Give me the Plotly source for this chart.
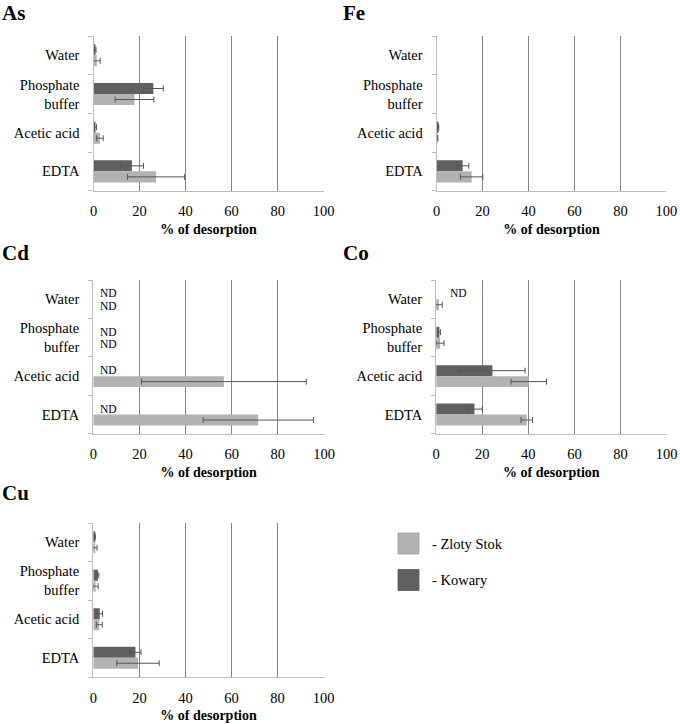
import plotly.graph_objects as go

W, H = 680, 724

categories = ["Water", "Phosphate buffer", "Acetic acid", "EDTA"]
tick_labels = ["Water", "Phosphate<br>buffer", "Acetic acid", "EDTA"]
x_ticks = [0, 20, 40, 60, 80, 100]

# values (% of desorption); None = not detected / no bar
as_kowary = [0.8, 26.0, 0.8, 16.7]
as_kowary_err = [0.3, 4.3, 0.5, 5.0]
as_zloty = [1.4, 17.8, 2.8, 27.2]
as_zloty_err = [1.5, 8.4, 1.4, 12.4]

fe_kowary = [None, None, 0.6, 11.3]
fe_kowary_err = [None, None, 0.3, 2.7]
fe_zloty = [None, None, 0.3, 15.2]
fe_zloty_err = [None, None, 0.2, 4.9]

cd_kowary = [None, None, None, None]
cd_kowary_err = [None, None, None, None]
cd_zloty = [None, None, 56.6, 71.5]
cd_zloty_err = [None, None, 35.7, 23.9]
cd_nd_kowary = [True, True, True, True]
cd_nd_zloty = [True, True, False, False]

co_kowary = [None, 1.4, 24.4, 16.6]
co_kowary_err = [None, 0.5, 14.2, 3.4]
co_zloty = [1.2, 1.7, 40.2, 39.3]
co_zloty_err = [1.4, 1.7, 7.7, 2.5]
co_nd_kowary = [True, False, False, False]
co_nd_zloty = [False, False, False, False]

cu_kowary = [0.6, 2.0, 2.8, 18.3]
cu_kowary_err = [0.3, 0.4, 1.2, 2.4]
cu_zloty = [0.7, 1.0, 2.6, 19.4]
cu_zloty_err = [0.9, 1.1, 1.3, 9.2]

legend_labels = ["- Zloty Stok", "- Kowary"]

DARK = "#606060"
LIGHT = "#b2b2b2"
FONT = "Liberation Serif, Tinos, 'Times New Roman', 'DejaVu Serif', serif"

panels = [
    ("As", as_kowary, as_kowary_err, as_zloty, as_zloty_err, None, None, (93.5, 323.7), (36, 190.7), 3),
    ("Fe", fe_kowary, fe_kowary_err, fe_zloty, fe_zloty_err, None, None, (436.7, 666.3), (36, 190.7), 3),
    ("Cd", cd_kowary, cd_kowary_err, cd_zloty, cd_zloty_err, cd_nd_kowary, cd_nd_zloty, (93.3, 324), (280, 433.8), 2.5),
    ("Co", co_kowary, co_kowary_err, co_zloty, co_zloty_err, co_nd_kowary, co_nd_zloty, (436.2, 666.5), (280, 433.8), 5.5),
    ("Cu", cu_kowary, cu_kowary_err, cu_zloty, cu_zloty_err, None, None, (93.3, 323.7), (523, 677), 3),
]
title_pos = [(0, -1), (341, -1), (0, 239), (341, 239), (0, 479)]

fig = go.Figure()
annotations = []
shapes = []

for i, (title, kv, ke, zv, ze, ndk, ndz, xd, yd, ndx) in enumerate(panels):
    n = "" if i == 0 else str(i + 1)
    xa, ya = "x" + n, "y" + n
    for name, vals, errs, col in [("Kowary", kv, ke, DARK), ("Zloty Stok", zv, ze, LIGHT)]:
        fig.add_trace(go.Bar(
            x=vals, y=categories, orientation="h", name=name,
            marker=dict(color=col, line=dict(width=0)),
            error_x=dict(type="data", array=errs, visible=True, color="#555555",
                         thickness=1, width=3),
            xaxis=xa, yaxis=ya, showlegend=False,
        ))
    fig.layout["xaxis" + n] = dict(
        domain=[xd[0] / W, xd[1] / W], anchor=ya, range=[0, 100],
        tickvals=x_ticks, ticktext=[str(t) for t in x_ticks],
        showgrid=True, gridcolor="#858585", gridwidth=1, zeroline=False,
        showline=True, linecolor="#bdbdbd", linewidth=1.3, ticks="",
        ticklabelstandoff=7, automargin=False, ticklabeloverflow="allow",
        tickfont=dict(family=FONT, size=14.5, color="black"),
        title=dict(text="<b>% of desorption</b>", font=dict(family=FONT, size=14, color="black"), standoff=5),
        fixedrange=True,
    )
    fig.layout["yaxis" + n] = dict(
        domain=[1 - yd[1] / H, 1 - yd[0] / H], anchor=xa,
        categoryorder="array", categoryarray=categories, autorange="reversed",
        tickvals=categories, ticktext=tick_labels,
        showgrid=False, zeroline=False, showline=True, linecolor="#bdbdbd", linewidth=1.3,
        ticks="outside", tickson="boundaries", ticklen=4, tickcolor="#bdbdbd",
        ticklabelstandoff=10, automargin=False,
        tickfont=dict(family=FONT, size=14.5, color="black"),
        fixedrange=True,
    )
    tx, ty = title_pos[i]
    annotations.append(dict(text="<b>" + title + "</b>", x=tx / W, y=1 - ty / H, xref="paper", yref="paper",
                            xanchor="left", yanchor="top", showarrow=False,
                            font=dict(family=FONT, size=21, color="black")))
    if ndk is not None:
        for flags, shift in [(ndk, 6), (ndz, -6.5)]:
            for cat, f in zip(categories, flags):
                if f:
                    annotations.append(dict(text="ND", x=ndx, y=cat, xref=xa, yref=ya,
                                            xanchor="left", yanchor="middle", yshift=shift,
                                            showarrow=False, borderpad=0,
                                            font=dict(family=FONT, size=11.5, color="black")))

for j, (lab, col) in enumerate(zip(legend_labels, [LIGHT, DARK])):
    y0 = 533 + j * 36.5
    shapes.append(dict(type="rect", xref="paper", yref="paper",
                       x0=398 / W, x1=419 / W, y0=1 - (y0 + 21) / H, y1=1 - y0 / H,
                       fillcolor=col, line=dict(color="#a0a0a0" if j == 0 else "#555555", width=0.8)))
    annotations.append(dict(text=lab, x=430 / W, y=1 - (y0 + 10.5) / H, xref="paper", yref="paper",
                            xanchor="left", yanchor="middle", showarrow=False,
                            font=dict(family=FONT, size=14.5, color="black")))

fig.update_layout(
    width=W, height=H, margin=dict(l=0, r=0, t=0, b=0, autoexpand=False),
    paper_bgcolor="white", plot_bgcolor="white",
    barmode="group", bargap=0.43, bargroupgap=0,
    annotations=annotations, shapes=shapes, showlegend=False,
    font=dict(family=FONT, color="black"),
)

fig.write_html("out.html", config={"displayModeBar": False},
               post_script="document.body.style.margin='0';document.body.style.overflow='hidden';")
